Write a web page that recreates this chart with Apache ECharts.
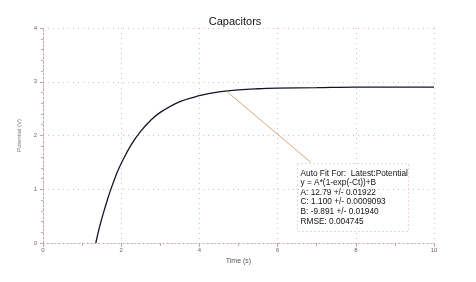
<!DOCTYPE html>
<html><head><meta charset="utf-8">
<script src="https://cdn.jsdelivr.net/npm/echarts@6/dist/echarts.min.js"></script>
<style>html,body{margin:0;padding:0;background:#fff}#c{width:476px;height:282px}</style>
</head><body><div id="c"></div>
<script>
var titleText = 'Capacitors';
var xName = 'Time (s)';
var yName = 'Potential (V)';
var timeVals = [1.35, 1.45, 1.55, 1.65, 1.75, 1.9, 2.0, 2.25, 2.5, 2.75, 3.0, 3.5, 4.0, 4.5, 5.0, 5.5, 6.0, 7.0, 8.0, 9.0, 10.0];
var potentialVals = [0.0, 0.31, 0.57, 0.81, 1.03, 1.32, 1.48, 1.82, 2.08, 2.28, 2.43, 2.63, 2.74, 2.81, 2.85, 2.87, 2.88, 2.89, 2.9, 2.9, 2.9];
var leaderFrom = [4.7, 2.82];
var leaderTo = [6.85, 1.5];
var fitLines = ['Auto Fit For:  Latest:Potential', 'y = A*(1-exp(-Ct))+B', 'A: 12.79 +/- 0.01922', 'C: 1.100 +/- 0.0009093', 'B: -9.891 +/- 0.01940', 'RMSE: 0.004745'];

var chart = echarts.init(document.getElementById('c'));
var data = timeVals.map(function(t, i){ return [t, potentialVals[i]]; });
var axisCol = '#c8a4ae';
var gridCol = '#e6b4c6';
chart.setOption({
  animation: false,
  title: { text: titleText, left: 230, top: 11, textAlign: 'center',
    textStyle: { fontFamily: 'Liberation Sans, Arial', fontSize: 11, fontWeight: 'normal', color: '#111' } },
  grid: { left: 43, right: 42, top: 28, bottom: 39 },
  xAxis: { type: 'value', min: 0, max: 10, interval: 2,
    name: xName, nameLocation: 'middle', nameGap: 15,
    nameTextStyle: { fontSize: 7, color: '#555', fontFamily: 'Liberation Sans' },
    axisLine: { lineStyle: { color: axisCol, type: [1, 3] } },
    axisTick: { length: 4, inside: false, lineStyle: { color: axisCol } },
    minorTick: { show: true, splitNumber: 2, length: 3, lineStyle: { color: axisCol } },
    axisLabel: { fontSize: 6, color: '#666', margin: 4, fontFamily: 'Liberation Sans' },
    splitLine: { show: true, lineStyle: { color: gridCol, type: [1, 4], width: 1 } } },
  yAxis: { type: 'value', min: 0, max: 4, interval: 1,
    name: yName, nameLocation: 'middle', nameGap: 19, nameRotate: 90,
    nameTextStyle: { fontSize: 6, color: '#777', fontFamily: 'Liberation Sans' },
    axisLine: { show: true, lineStyle: { color: axisCol, type: [2, 2] } },
    axisTick: { show: true, length: 3, lineStyle: { color: axisCol } },
    minorTick: { show: true, splitNumber: 5, length: 2, lineStyle: { color: axisCol } },
    axisLabel: { fontSize: 6, color: '#666', margin: 6, fontFamily: 'Liberation Sans' },
    splitLine: { show: true, lineStyle: { color: gridCol, type: [1, 4], width: 1 } } },
  series: [{
    type: 'line', data: data, smooth: 0.4, showSymbol: false,
    lineStyle: { color: '#141428', width: 1.3 },
    markLine: { silent: true, symbol: ['none', 'none'],
      lineStyle: { color: '#d9a57a', type: 'solid', width: 1 },
      label: { show: false },
      data: [[{ coord: leaderFrom }, { coord: leaderTo }]] }
  }],
  graphic: [{
    type: 'group', left: 297, top: 163,
    children: [
      { type: 'rect', shape: { x: 0, y: 0, width: 111, height: 68 },
        style: { fill: '#fff', stroke: '#d9a8bc', lineDash: [1, 3], lineWidth: 1 } },
      { type: 'text', left: 3, top: 5,
        style: { text: fitLines.join('\n'), font: '8.3px "Liberation Sans", Arial', lineHeight: 9.6, fill: '#111' } }
    ]
  }]
});
</script></body></html>
